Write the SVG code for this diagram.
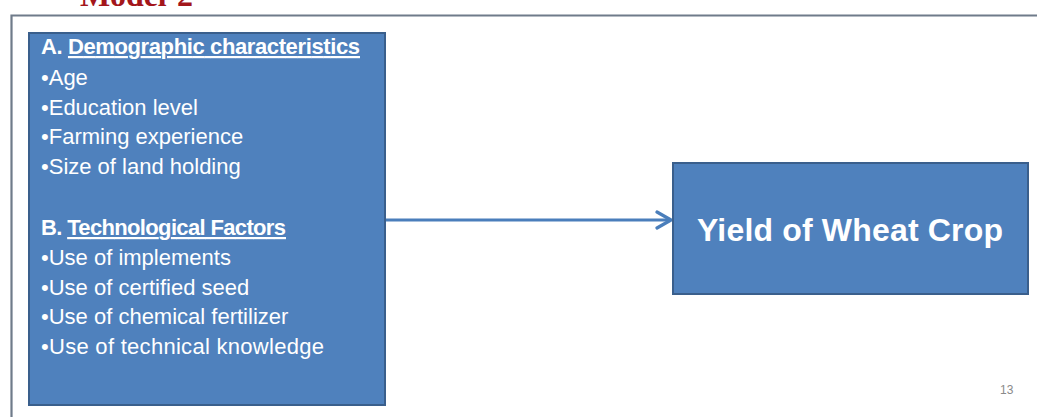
<svg xmlns="http://www.w3.org/2000/svg" width="1037" height="417" viewBox="0 0 1037 417">
<style>
.box{fill:#4f81bd;stroke:#3a5f8c;stroke-width:2}
.t{font-family:"Liberation Sans",Arial,sans-serif;fill:#ffffff;font-size:22px}
.big{font-size:32px}
.b{font-weight:bold}
.u{text-decoration:underline}
</style>
<defs>
<marker id="arr" viewBox="0 0 20 20" refX="17" refY="10" markerWidth="20" markerHeight="20" markerUnits="userSpaceOnUse" orient="auto">
<path d="M3,2 L17,10 L3,18" fill="none" stroke="#4a7ebb" stroke-width="3.2" stroke-linecap="round" stroke-linejoin="round"/>
</marker>
</defs>
<rect width="1037" height="417" fill="#ffffff"/>
<text x="80" y="6" font-family="Liberation Serif,serif" font-weight="bold" font-size="32" fill="#a3161b" textLength="113">Model-2</text>
<path d="M11.5,430 L11.5,15.5 L1040,15.5" fill="none" stroke="#6f7b8a" stroke-width="2.2"/>
<g id="connectors">
<line x1="386" y1="220" x2="671" y2="220" stroke="#4a7ebb" stroke-width="3.2" marker-end="url(#arr)"/>
</g>
<g id="factors">
<rect class="box" x="29" y="33" width="356" height="372"/>
<text class="t b" x="41" y="54" textLength="319">A. <tspan class="u">Demographic characteristics</tspan></text>
<text class="t" x="41" y="85">•Age</text>
<text class="t" x="41" y="115">•Education level</text>
<text class="t" x="41" y="144">•Farming experience</text>
<text class="t" x="41" y="174">•Size of land holding</text>
<text class="t b" x="41" y="235" textLength="245">B. <tspan class="u">Technological Factors</tspan></text>
<text class="t" x="41" y="265">•Use of implements</text>
<text class="t" x="41" y="295">•Use of certified seed</text>
<text class="t" x="41" y="324">•Use of chemical fertilizer</text>
<text class="t" x="41" y="354" textLength="283">•Use of technical knowledge</text>
</g>
<g id="yield">
<rect class="box" x="673" y="163" width="355" height="131"/>
<text class="t b big" x="697" y="241" textLength="306">Yield of Wheat Crop</text>
</g>
<text x="1000" y="394" font-family="Liberation Sans,Arial,sans-serif" font-size="12" fill="#8a8a8a">13</text>
</svg>
